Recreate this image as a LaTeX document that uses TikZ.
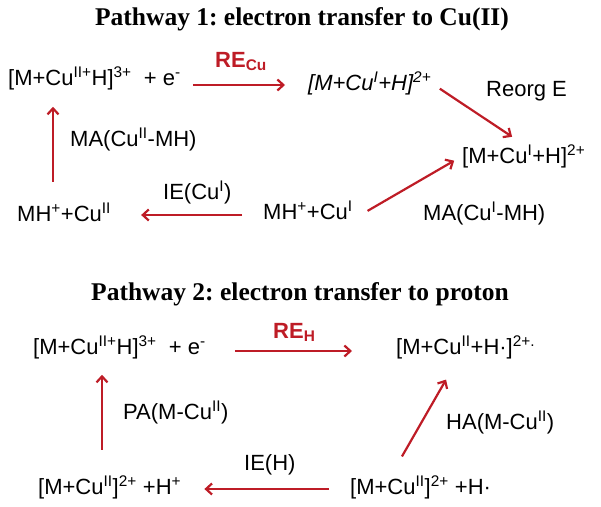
\documentclass[tikz,border=0pt]{standalone}
\usepackage{fontspec}
\setmainfont{Liberation Sans}
\newfontfamily\titlefont{Liberation Serif}
\usetikzlibrary{arrows.meta}
\definecolor{darkred}{RGB}{190,28,38}
\frenchspacing

\begin{document}
\begin{tikzpicture}[x=1pt,y=-1pt]
      \tikzstyle{species} = [inner sep=0pt, font=\fontsize{22}{26}\selectfont]
      \tikzstyle{energy} = [inner sep=0pt, font=\fontsize{22}{26}\selectfont]
      \tikzstyle{relabel} = [inner sep=0pt, text=darkred, font=\bfseries\fontsize{22}{26}\selectfont]
      \tikzstyle{heading} = [inner sep=0pt, font=\titlefont\bfseries\fontsize{25.5}{30}\selectfont]
      \tikzstyle{rxn} = [darkred, line width=2.2pt, -{Straight Barb[length=6pt,width=11pt]}]
      \useasboundingbox (0,0) rectangle (601,506);
      % pathway 1
      \node (t1) [heading, anchor=base] at (302,25) {Pathway 1: electron transfer to Cu(II)};
      \node (a1) [species, anchor=base west] at (8,85) {[M+Cu\textsuperscript{II+}H]\textsuperscript{3+}\ \ + e\textsuperscript{-}};
      \node (re1) [relabel, anchor=base west] at (215,67) {RE\textsubscript{Cu}};
      \node (b1) [species, anchor=base west, font=\itshape\fontsize{22}{26}\selectfont] at (308,90) {[M+Cu\textsuperscript{I}+H]\textsuperscript{2+}};
      \node (reorg) [energy, anchor=base west] at (486,96) {Reorg E};
      \node (c1) [species, anchor=base west] at (462,163) {[M+Cu\textsuperscript{I}+H]\textsuperscript{2+}};
      \node (ma2) [energy, anchor=base west] at (70,146) {MA(Cu\textsuperscript{II}-MH)};
      \node (d1) [species, anchor=base west] at (17,221) {MH\textsuperscript{+}+Cu\textsuperscript{II}};
      \node (ie1) [energy, anchor=base west] at (163,199) {IE(Cu\textsuperscript{I})};
      \node (e1) [species, anchor=base west] at (263,219) {MH\textsuperscript{+}+Cu\textsuperscript{I}};
      \node (ma1) [energy, anchor=base west] at (423,220) {MA(Cu\textsuperscript{I}-MH)};
      \draw [rxn, shorten <=12pt, shorten >=23pt] (a1.base east)--(a1.base east -| b1.west);
      \draw [rxn, shorten <=10pt, shorten >=14pt] (b1.east)--(c1.north);
      \draw [rxn, shorten <=17pt, shorten >=9pt] (e1.south east)--(c1.west);
      \draw [rxn, shorten <=21pt, shorten >=30pt] ([yshift=4pt]e1.base west)--([yshift=4pt]e1.base west -| d1.east);
      \draw [rxn, shorten <=21pt, shorten >=17pt] ([xshift=36pt]d1.north west)--([xshift=36pt]d1.north west |- a1.south);
      % pathway 2
      \node (t2) [heading, anchor=base] at (300,300) {Pathway 2: electron transfer to proton};
      \node (a2) [species, anchor=base west] at (33,354) {[M+Cu\textsuperscript{II+}H]\textsuperscript{3+}\ \ + e\textsuperscript{-}};
      \node (re2) [relabel, anchor=base west] at (273,338) {RE\textsubscript{H}};
      \node (b2) [species, anchor=base west] at (396,354) {[M+Cu\textsuperscript{II}+H·]\textsuperscript{2+.}};
      \node (pa) [energy, anchor=base west] at (123,419) {PA(M-Cu\textsuperscript{II})};
      \node (ha) [energy, anchor=base west] at (446,429) {HA(M-Cu\textsuperscript{II})};
      \node (ie2) [energy, anchor=base west] at (244,470) {IE(H)};
      \node (f2) [species, anchor=base west] at (38,494) {[M+Cu\textsuperscript{II}]\textsuperscript{2+}\ +H\textsuperscript{+}};
      \node (g2) [species, anchor=base west] at (350,494) {[M+Cu\textsuperscript{II}]\textsuperscript{2+}\ +H·};
      \draw [rxn, shorten <=29pt, shorten >=44pt] ([yshift=3pt]a2.base east)--([yshift=3pt]a2.base east -| b2.west);
      \draw [rxn, shorten <=21pt, shorten >=23pt] ([yshift=5pt]g2.base west)--([yshift=5pt]g2.base west -| f2.east);
      \draw [rxn, shorten <=26pt, shorten >=16pt] ([xshift=64pt]f2.north west)--([xshift=64pt]f2.north west |- a2.south);
      \draw [rxn, shorten <=22pt, shorten >=24pt] ([xshift=41pt]g2.north west)--([xshift=62pt]b2.south west);
\end{tikzpicture}
\end{document}
